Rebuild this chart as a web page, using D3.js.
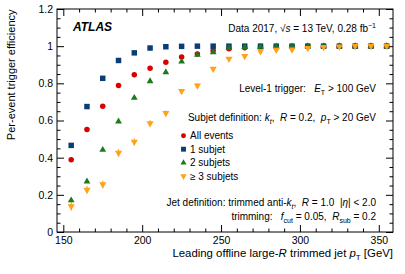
<!DOCTYPE html>
<html>
<head>
<meta charset="utf-8">
<script src="https://cdn.jsdelivr.net/npm/d3@7"></script>
<style>
  body { margin: 0; background: #fff; }
  svg text { font-family: "Liberation Sans", Arial, Helvetica, sans-serif; fill: #000; white-space: pre; }
</style>
</head>
<body>
<svg id="chart" width="405" height="274"></svg>
<script>
// data
const ptBins = [155, 165, 175, 185, 195, 205, 215, 225, 235, 245, 255, 265, 275, 285, 295, 305, 315, 325, 335, 345, 355];
const allEvents = [0.389, 0.552, 0.677, 0.788, 0.846, 0.881, 0.914, 0.942, 0.958, 0.976, 0.986, 0.992, 0.995, 0.997, 0.998, 0.999, 1.0, 1.0, 1.0, 1.0, 1.0];
const oneSubjet = [0.466, 0.675, 0.827, 0.923, 0.964, 0.99, 0.997, 0.999, 1.0, 1.0, 1.0, 1.0, 1.0, 1.0, 1.0, 1.0, 1.0, 1.0, 1.0, 1.0, 1.0];
const twoSubjets = [0.17, 0.272, 0.442, 0.595, 0.722, 0.811, 0.86, 0.917, 0.953, 0.967, 0.99, 0.995, 0.997, 0.998, 0.999, 1.0, 1.0, 1.0, 1.0, 1.0, 1.0];
const threeSubjets = [0.138, 0.227, 0.256, 0.426, 0.485, 0.585, 0.64, 0.758, 0.788, 0.878, 0.932, 0.947, 0.972, 0.98, 0.982, 0.99, 0.995, 0.998, 1.0, 1.0, 1.0];
const threeSubjetsErr = [0.022, 0.02, 0.02, 0.02, 0.018, 0.016, 0.014, 0.012, 0.012, 0.01, 0.008, 0.007, 0.006, 0.005, 0.005, 0.004, 0.003, 0.002, 0.001, 0.001, 0.001];
const xMajorTicks = [150, 200, 250, 300, 350];
const yMajorTicks = [0, 0.2, 0.4, 0.6, 0.8, 1.0, 1.2];
const legendLabels = ["All events", "1 subjet", "2 subjets", "\u2265 3 subjets"];

const svg = d3.select('#chart');

const plotL = 57, plotR = 393, plotT = 9, plotB = 232;
const x = d3.scaleLinear().domain([146, 359]).range([plotL, plotR]);
const y = d3.scaleLinear().domain([0, 1.2]).range([plotB, plotT]);

// minor tick positions
const xMinor = d3.range(150, 360, 10).filter(v => v % 50 !== 0);
const yMinor = d3.range(0, 1.2001, 0.05).filter(v => Math.abs(v / 0.2 - Math.round(v / 0.2)) > 1e-6);

const yFmt = d => d === 0 ? '0' : (Math.abs(d - 1) < 1e-9 ? '1' : d3.format('.1f')(d));

function addAxis(axis, transform, labels) {
  const g = svg.append('g').attr('transform', transform).call(axis);
  g.select('.domain').remove();
  g.selectAll('line').attr('stroke', '#000').attr('stroke-width', 1);
  g.selectAll('text')
    .style('font-family', '"Liberation Sans", Arial, sans-serif')
    .style('font-size', '10.5px')
    .attr('fill', '#000');
  if (!labels) g.selectAll('text').remove();
  return g;
}

// bottom + top
addAxis(d3.axisBottom(x).tickValues(xMajorTicks).tickSizeInner(-7).tickSizeOuter(0).tickPadding(5), `translate(0,${plotB})`, true);
addAxis(d3.axisBottom(x).tickValues(xMinor).tickSizeInner(-3.5).tickSizeOuter(0), `translate(0,${plotB})`, false);
addAxis(d3.axisTop(x).tickValues(xMajorTicks).tickSizeInner(-7).tickSizeOuter(0), `translate(0,${plotT})`, false);
addAxis(d3.axisTop(x).tickValues(xMinor).tickSizeInner(-3.5).tickSizeOuter(0), `translate(0,${plotT})`, false);
// left + right
addAxis(d3.axisLeft(y).tickValues(yMajorTicks).tickFormat(yFmt).tickSizeInner(-7).tickSizeOuter(0).tickPadding(4), `translate(${plotL},0)`, true);
addAxis(d3.axisLeft(y).tickValues(yMinor).tickSizeInner(-3.5).tickSizeOuter(0), `translate(${plotL},0)`, false);
addAxis(d3.axisRight(y).tickValues(yMajorTicks).tickSizeInner(-7).tickSizeOuter(0), `translate(${plotR},0)`, false);
addAxis(d3.axisRight(y).tickValues(yMinor).tickSizeInner(-3.5).tickSizeOuter(0), `translate(${plotR},0)`, false);

svg.append('rect')
  .attr('x', plotL).attr('y', plotT)
  .attr('width', plotR - plotL).attr('height', plotB - plotT)
  .attr('fill', 'none').attr('stroke', '#000').attr('stroke-width', 1);

// markers
const colors = ['#d90000', '#0b3c73', '#1b7a1b', '#ffa21a'];
const sym = [d3.symbolCircle, d3.symbolSquare, d3.symbolTriangle, d3.symbolTriangle];
const symSize = [24, 30, 20, 22];

const series = [allEvents, oneSubjet, twoSubjets, threeSubjets];

// error bars for >=3 subjets
svg.append('g').selectAll('line')
  .data(ptBins.map((p, i) => ({p, v: threeSubjets[i], e: threeSubjetsErr[i]})))
  .enter().append('line')
  .attr('x1', d => x(d.p)).attr('x2', d => x(d.p))
  .attr('y1', d => y(Math.min(d.v + d.e, 1.0)))
  .attr('y2', d => y(d.v - d.e))
  .attr('stroke', colors[3]).attr('stroke-width', 1.2);

series.forEach((vals, k) => {
  svg.append('g').selectAll('path')
    .data(ptBins.map((p, i) => ({p, v: vals[i]})))
    .enter().append('path')
    .attr('d', d3.symbol().type(sym[k]).size(symSize[k]))
    .attr('transform', d => `translate(${x(d.p)},${y(d.v)})` + (k === 3 ? ' rotate(180)' : ''))
    .attr('fill', colors[k]);
});

// legend
const legY = [135.7, 149.2, 162.7, 176.2];
legendLabels.forEach((lab, k) => {
  svg.append('path')
    .attr('d', d3.symbol().type(sym[k]).size(symSize[k] * 0.8))
    .attr('transform', `translate(183.5,${legY[k]})` + (k === 3 ? ' rotate(180)' : ''))
    .attr('fill', colors[k]);
  svg.append('text')
    .attr('x', 190).attr('y', legY[k] + 3.6)
    .style('font-size', '10px')
    .text(lab);
});

// text with sub/superscripts
function richText(xp, yp, parts, anchor, size) {
  const t = svg.append('text')
    .attr('x', xp).attr('y', yp)
    .attr('text-anchor', anchor || 'start')
    .style('font-size', (size || 10) + 'px');
  let shift = 0;
  parts.forEach(p => {
    const s = t.append('tspan').text(p.t);
    let want = 0;
    if (p.sub) want = 3;
    if (p.sup) want = -4;
    if (want !== shift) { s.attr('dy', want - shift); shift = want; }
    if (p.sub || p.sup) s.style('font-size', '70%');
    if (p.i) s.style('font-style', 'italic');
  });
  return t;
}

svg.append('text')
  .attr('x', 73).attr('y', 30.5)
  .style('font-size', '12px').style('font-weight', 'bold').style('font-style', 'italic')
  .text('ATLAS');

richText(376, 31.5, [
  {t: 'Data 2017, \u221A'}, {t: 's', i: true}, {t: ' = 13 TeV, 0.28 fb'}, {t: '\u22121', sup: true}
], 'end');

richText(376, 91.5, [
  {t: 'Level-1 trigger:   '}, {t: 'E', i: true}, {t: 'T', sub: true}, {t: ' > 100 GeV'}
], 'end');

richText(376, 120.5, [
  {t: 'Subjet definition: '}, {t: 'k', i: true}, {t: 't', sub: true, i: true}, {t: ',  '},
  {t: 'R', i: true}, {t: ' = 0.2,  '}, {t: 'p', i: true}, {t: 'T', sub: true}, {t: ' > 20 GeV'}
], 'end');

richText(376, 206, [
  {t: 'Jet definition: trimmed anti-'}, {t: 'k', i: true}, {t: 't', sub: true, i: true}, {t: ',  '},
  {t: 'R', i: true}, {t: ' = 1.0  |'}, {t: '\u03B7', i: true}, {t: '| < 2.0'}
], 'end');

richText(376, 219.5, [
  {t: 'trimming:   '}, {t: 'f', i: true}, {t: 'cut', sub: true}, {t: ' = 0.05,  '},
  {t: 'R', i: true}, {t: 'sub', sub: true}, {t: ' = 0.2'}
], 'end');

// axis titles
richText(393, 256.5, [
  {t: 'Leading offline large-'}, {t: 'R', i: true}, {t: ' trimmed jet '}, {t: 'p', i: true},
  {t: 'T', sub: true}, {t: ' [GeV]'}
], 'end', 11.4);

svg.append('text')
  .attr('transform', 'translate(15,9.5) rotate(-90)')
  .attr('text-anchor', 'end')
  .style('font-size', '11px')
  .text('Per-event trigger efficiency');
</script>
</body>
</html>
